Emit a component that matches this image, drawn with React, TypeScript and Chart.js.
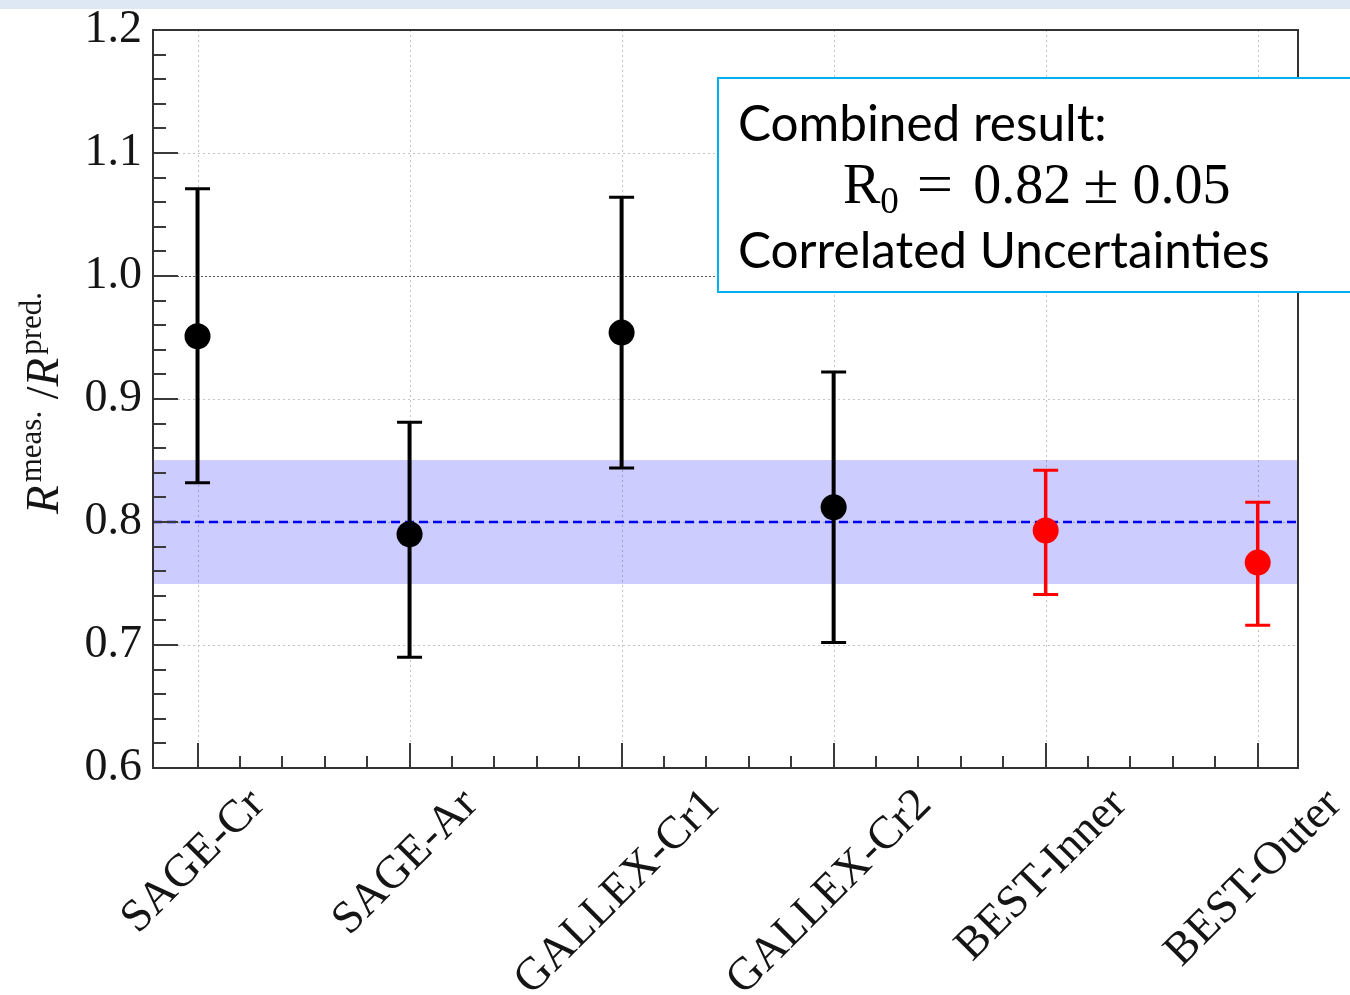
import React, { useEffect, useRef } from 'react';
import { Chart, registerables } from 'chart.js';

Chart.register(...registerables);

// ---------- data ----------
const categories = ['SAGE-Cr', 'SAGE-Ar', 'GALLEX-Cr1', 'GALLEX-Cr2', 'BEST-Inner', 'BEST-Outer'];
const ratioValues = [0.951, 0.79, 0.954, 0.812, 0.793, 0.767];
const errUpper = [1.071, 0.881, 1.064, 0.922, 0.842, 0.816];
const errLower = [0.832, 0.69, 0.844, 0.702, 0.741, 0.716];
const pointColors = ['#000000', '#000000', '#000000', '#000000', '#ff0000', '#ff0000'];
const yTickValues = [0.6, 0.7, 0.8, 0.9, 1.0, 1.1, 1.2];
const yMinorStep = 0.02;
const xMinorStep = 0.2;
const combinedLine = 0.8;
const bandLow = 0.75;
const bandHigh = 0.85;
const referenceLine = 1.0;
const xMin = 0.79;
const xMax = 6.19;
const yMin = 0.6;
const yMax = 1.2;

const SERIF = '"Liberation Serif", "Times New Roman", serif';
const SANS = 'Lato, "Open Sans", sans-serif';

function valueText(v: number) {
  return v.toFixed(2);
}

const decorPlugin = {
  id: 'decor',
  beforeDraw(chart: any) {
    const ctx = chart.ctx;
    ctx.save();
    ctx.fillStyle = '#ffffff';
    ctx.fillRect(0, 0, chart.width, chart.height);
    ctx.fillStyle = '#dde8f4';
    ctx.fillRect(0, 0, chart.width, 9);
    ctx.restore();
  },
  beforeDatasetsDraw(chart: any) {
    const ctx = chart.ctx;
    const { left, right, top, bottom } = chart.chartArea;
    const xs = chart.scales.x;
    const ys = chart.scales.y;
    ctx.save();
    ctx.lineWidth = 1;
    ctx.strokeStyle = '#c4c4c4';
    ctx.setLineDash([2, 3]);
    categories.forEach((_, i) => {
      const px = Math.round(xs.getPixelForValue(i + 1)) + 0.5;
      ctx.beginPath();
      ctx.moveTo(px, top);
      ctx.lineTo(px, bottom);
      ctx.stroke();
    });
    yTickValues.forEach((v) => {
      const py = Math.round(ys.getPixelForValue(v)) + 0.5;
      const isRef = Math.abs(v - referenceLine) < 1e-9;
      ctx.strokeStyle = isRef ? '#555555' : '#c4c4c4';
      ctx.setLineDash(isRef ? [2, 2] : [2, 3]);
      ctx.beginPath();
      ctx.moveTo(left, py);
      ctx.lineTo(right, py);
      ctx.stroke();
    });
    ctx.restore();
  },
  beforeDatasetDraw(chart: any, args: any) {
    if (args.index !== 0) return;
    const ctx = chart.ctx;
    const xs = chart.scales.x;
    const ys = chart.scales.y;
    ctx.save();
    categories.forEach((_, i) => {
      const px = xs.getPixelForValue(i + 1);
      const pHi = ys.getPixelForValue(errUpper[i]);
      const pLo = ys.getPixelForValue(errLower[i]);
      ctx.strokeStyle = pointColors[i];
      ctx.lineWidth = i < 4 ? 4 : 3.5;
      ctx.beginPath();
      ctx.moveTo(px, pHi);
      ctx.lineTo(px, pLo);
      ctx.stroke();
      ctx.lineWidth = 3;
      ctx.beginPath();
      ctx.moveTo(px - 12.5, pHi);
      ctx.lineTo(px + 12.5, pHi);
      ctx.moveTo(px - 12.5, pLo);
      ctx.lineTo(px + 12.5, pLo);
      ctx.stroke();
    });
    ctx.restore();
  },
  afterDraw(chart: any) {
    const ctx = chart.ctx;
    const { left, right, top, bottom } = chart.chartArea;
    const xs = chart.scales.x;
    const ys = chart.scales.y;
    ctx.save();
    // ticks
    ctx.strokeStyle = '#3a3a3a';
    ctx.lineWidth = 2;
    ctx.setLineDash([]);
    const nY = Math.round((yMax - yMin) / yMinorStep);
    for (let k = 1; k < nY; k++) {
      const v = yMin + k * yMinorStep;
      const py = Math.round(ys.getPixelForValue(v));
      const major = k % 5 === 0;
      ctx.beginPath();
      ctx.moveTo(left, py);
      ctx.lineTo(left + (major ? 25 : 13), py);
      ctx.stroke();
    }
    categories.forEach((_, i) => {
      const px = Math.round(xs.getPixelForValue(i + 1));
      ctx.beginPath();
      ctx.moveTo(px, bottom);
      ctx.lineTo(px, bottom - 25);
      ctx.stroke();
      if (i < categories.length - 1) {
        for (let j = 1; j < 5; j++) {
          const mx = Math.round(xs.getPixelForValue(i + 1 + j * xMinorStep));
          ctx.beginPath();
          ctx.moveTo(mx, bottom);
          ctx.lineTo(mx, bottom - 12);
          ctx.stroke();
        }
      }
    });
    // frame
    ctx.strokeStyle = '#333333';
    ctx.lineWidth = 2;
    ctx.strokeRect(left, top, right - left, bottom - top);

    // x labels (rotated 45deg)
    ctx.fillStyle = '#151515';
    ctx.font = `46px ${SERIF}`;
    ctx.textAlign = 'center';
    ctx.textBaseline = 'alphabetic';
    const capH = 30;
    categories.forEach((c, i) => {
      const tx = xs.getPixelForValue(i + 1);
      const L = ctx.measureText(c).width;
      const cy = bottom + 17 + (L + capH) * 0.35355;
      const cx = tx - 6;
      ctx.save();
      ctx.translate(cx, cy);
      ctx.rotate(-Math.PI / 4);
      ctx.fillText(c, 0, capH / 2);
      ctx.restore();
    });

    // y title: R^{meas.}/R^{pred.}
    const pieces = [
      { t: 'R', f: `italic 47px ${SERIF}`, dy: 0, extra: 3 },
      { t: 'meas.', f: `31px ${SERIF}`, dy: -17, extra: 0 },
      { t: ' /', f: `46px ${SERIF}`, dy: 0, extra: 0 },
      { t: 'R', f: `italic 47px ${SERIF}`, dy: 0, extra: 3 },
      { t: 'pred.', f: `31px ${SERIF}`, dy: -17, extra: 0 },
    ];
    let total = 0;
    const widths = pieces.map((p) => {
      ctx.font = p.f;
      const w = ctx.measureText(p.t).width + p.extra;
      total += w;
      return w;
    });
    ctx.save();
    ctx.translate(left - 95, (top + bottom) / 2 + 4);
    ctx.rotate(-Math.PI / 2);
    ctx.textAlign = 'left';
    let xx = -total / 2;
    pieces.forEach((p, i) => {
      ctx.font = p.f;
      ctx.fillText(p.t, xx, p.dy);
      xx += widths[i];
    });
    ctx.restore();

    // annotation box
    ctx.fillStyle = '#ffffff';
    ctx.fillRect(718, 78, 700, 214);
    ctx.strokeStyle = '#00b0f0';
    ctx.lineWidth = 2;
    ctx.strokeRect(718, 78, 700, 214);
    ctx.fillStyle = '#000000';
    ctx.textAlign = 'left';
    const line1 = 'Combined result:';
    const line3 = 'Correlated Uncertainties';
    ctx.font = `40px ${SANS}`;
    const s1 = (40 * 370) / ctx.measureText(line1).width;
    const s3 = (40 * 530) / ctx.measureText(line3).width;
    const s = (s1 + s3) / 2;
    ctx.font = `${s}px ${SANS}`;
    ctx.fillText(line1, 738, 141);
    ctx.fillText(line3, 738, 268);
    // R0 = 0.82 ± 0.05
    let x2 = 843;
    const base2 = 203;
    ctx.font = `56px ${SERIF}`;
    ctx.fillText('R', x2, base2);
    x2 += ctx.measureText('R').width;
    ctx.font = `37px ${SERIF}`;
    ctx.fillText('0', x2, base2 + 10);
    x2 += ctx.measureText('0').width + 18;
    ctx.font = `56px ${SERIF}`;
    const parts = [
      { t: '=', gap: 20 },
      { t: valueText(0.82), gap: 12 },
      { t: '±', gap: 14 },
      { t: valueText(0.05), gap: 0 },
    ];
    parts.forEach((p) => {
      ctx.save();
      if (p.t === '=' || p.t === '±') {
        ctx.translate(x2, base2);
        ctx.scale(1.15, 1);
        ctx.fillText(p.t, 0, 0);
        ctx.restore();
        x2 += ctx.measureText(p.t).width * 1.15 + p.gap;
      } else {
        ctx.fillText(p.t, x2, base2);
        ctx.restore();
        x2 += ctx.measureText(p.t).width + p.gap;
      }
    });
    ctx.restore();
  },
};

export default function App() {
  const canvasRef = useRef<HTMLCanvasElement | null>(null);

  useEffect(() => {
    if (!canvasRef.current) return;
    const chart = new Chart(canvasRef.current, {
      type: 'scatter',
      data: {
        datasets: [
          {
            type: 'scatter',
            data: categories.map((_, i) => ({ x: i + 1, y: ratioValues[i] })),
            pointRadius: 13,
            pointBackgroundColor: pointColors,
            pointBorderColor: pointColors,
            pointBorderWidth: 0,
            order: 0,
          } as any,
          {
            type: 'line',
            data: [
              { x: xMin, y: combinedLine },
              { x: xMax, y: combinedLine },
            ],
            borderColor: '#0000f0',
            borderWidth: 2.5,
            borderDash: [9, 5],
            pointRadius: 0,
            fill: false,
            order: 1,
          } as any,
          {
            type: 'line',
            data: [
              { x: xMin, y: bandHigh },
              { x: xMax, y: bandHigh },
            ],
            borderColor: 'rgba(0,0,255,0.1)',
            borderWidth: 1,
            pointRadius: 0,
            fill: '+1',
            backgroundColor: 'rgba(0,0,255,0.2)',
            order: 2,
          } as any,
          {
            type: 'line',
            data: [
              { x: xMin, y: bandLow },
              { x: xMax, y: bandLow },
            ],
            borderColor: 'rgba(0,0,255,0.1)',
            borderWidth: 1,
            pointRadius: 0,
            fill: false,
            order: 3,
          } as any,
        ],
      },
      options: {
        animation: false,
        responsive: false,
        devicePixelRatio: 1,
        events: [],
        layout: { padding: { top: 30, right: 52, left: 0, bottom: 0 } },
        plugins: {
          legend: { display: false },
          tooltip: { enabled: false },
        },
        scales: {
          x: {
            type: 'linear',
            min: xMin,
            max: xMax,
            grid: { display: false, drawTicks: false },
            border: { display: false },
            ticks: { display: false },
            afterFit: (s: any) => {
              s.height = 227;
            },
          },
          y: {
            type: 'linear',
            min: yMin,
            max: yMax,
            grid: { display: false, drawTicks: false },
            border: { display: false },
            afterBuildTicks: (s: any) => {
              s.ticks = yTickValues.map((v) => ({ value: v }));
            },
            ticks: {
              padding: 11,
              color: '#151515',
              font: { family: SERIF, size: 46, lineHeight: 0.8 },
              callback: (v: any) => Number(v).toFixed(1),
            },
            afterFit: (s: any) => {
              s.width = 153;
              s.paddingTop = 0;
              s.paddingBottom = 0;
            },
          },
        },
      } as any,
      plugins: [decorPlugin],
    });
    return () => chart.destroy();
  }, []);

  return (
    <div style={{ position: 'absolute', left: 0, top: 0, width: 1350, height: 995, overflow: 'hidden' }}>
      <canvas ref={canvasRef} width={1350} height={995} style={{ display: 'block' }} />
    </div>
  );
}
